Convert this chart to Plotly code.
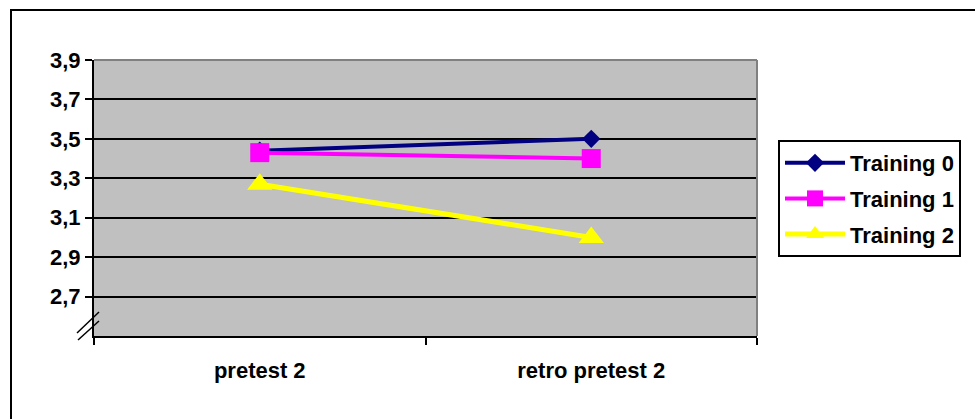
import plotly.graph_objects as go

categories = ["pretest 2", "retro pretest 2"]
series_names = ["Training 0", "Training 1", "Training 2"]
training0 = [3.44, 3.50]
training1 = [3.43, 3.40]
training2 = [3.27, 3.00]
y_tickvals = [2.7, 2.9, 3.1, 3.3, 3.5, 3.7, 3.9]
y_ticktext = ["2,7", "2,9", "3,1", "3,3", "3,5", "3,7", "3,9"]

W, H = 975, 419
L, R, T, B = 94, 218, 60, 83
pw, ph = W - L - R, H - T - B


def px(x):
    return (x - L) / pw


def py(y):
    return (H - B - y) / ph


FONT = "Liberation Sans, Arial, sans-serif"
FS = 22

styles = [
    dict(color="#000080", symbol="diamond", size=14, width=4),
    dict(color="#FF00FF", symbol="square", size=19, width=4),
    dict(color="#FFFF00", symbol="triangle-up", size=22, width=5),
]

fig = go.Figure()
for name, vals, st in zip(series_names, [training0, training1, training2], styles):
    fig.add_trace(go.Scatter(
        x=categories, y=vals, name=name, mode="lines+markers",
        legendgroup=name,
        line=dict(color=st["color"], width=st["width"]),
        marker=dict(color=st["color"], symbol=st["symbol"], size=st["size"],
                    line=dict(width=0)),
    ))

shapes = [
    # outer chart frame (right/bottom edges beyond the visible area)
    dict(type="rect", xref="paper", yref="paper", x0=px(11), x1=px(990),
         y0=py(440), y1=py(10), line=dict(color="black", width=2), layer="below"),
    # gray plot border top and right
    dict(type="line", xref="paper", yref="paper", x0=0, x1=1, y0=1, y1=1,
         line=dict(color="#808080", width=2)),
    dict(type="line", xref="paper", yref="paper", x0=1, x1=1, y0=0, y1=1,
         line=dict(color="#808080", width=2)),
    # axis break marks
    dict(type="line", xref="paper", yref="paper", x0=px(77), x1=px(99),
         y0=py(333), y1=py(312), line=dict(color="black", width=1.5)),
    dict(type="line", xref="paper", yref="paper", x0=px(78), x1=px(99),
         y0=py(340), y1=py(321), line=dict(color="black", width=1.5)),
]

fig.update_layout(
    width=W, height=H,
    margin=dict(l=L, r=R, t=T, b=B),
    paper_bgcolor="white",
    plot_bgcolor="#C0C0C0",
    font=dict(family=FONT, size=FS, color="black"),
    showlegend=True,
    legend=dict(
        x=px(778), y=py(140), xanchor="left", yanchor="top",
        bgcolor="white", bordercolor="black", borderwidth=2,
        font=dict(family=FONT, size=FS, color="black", weight="bold"),
        tracegroupgap=4, itemwidth=60,
    ),
    shapes=shapes,
    xaxis=dict(
        type="category", range=[-0.5, 1.5],
        tickson="boundaries", ticks="outside", ticklen=7, tickwidth=2,
        tickcolor="black", showline=True, linecolor="black", linewidth=2,
        showgrid=False, zeroline=False, ticklabelstandoff=14,
        tickfont=dict(family=FONT, size=FS, color="black", weight="bold"),
    ),
    yaxis=dict(
        range=[2.5, 3.9], tickmode="array", tickvals=y_tickvals,
        ticktext=y_ticktext, ticks="outside", ticklen=7, tickwidth=2,
        tickcolor="black", showline=True, linecolor="black", linewidth=2,
        showgrid=True, gridcolor="black", gridwidth=2, zeroline=False,
        tickfont=dict(family=FONT, size=FS, color="black", weight="bold"),
    ),
)

fig.write_html("out.html")
